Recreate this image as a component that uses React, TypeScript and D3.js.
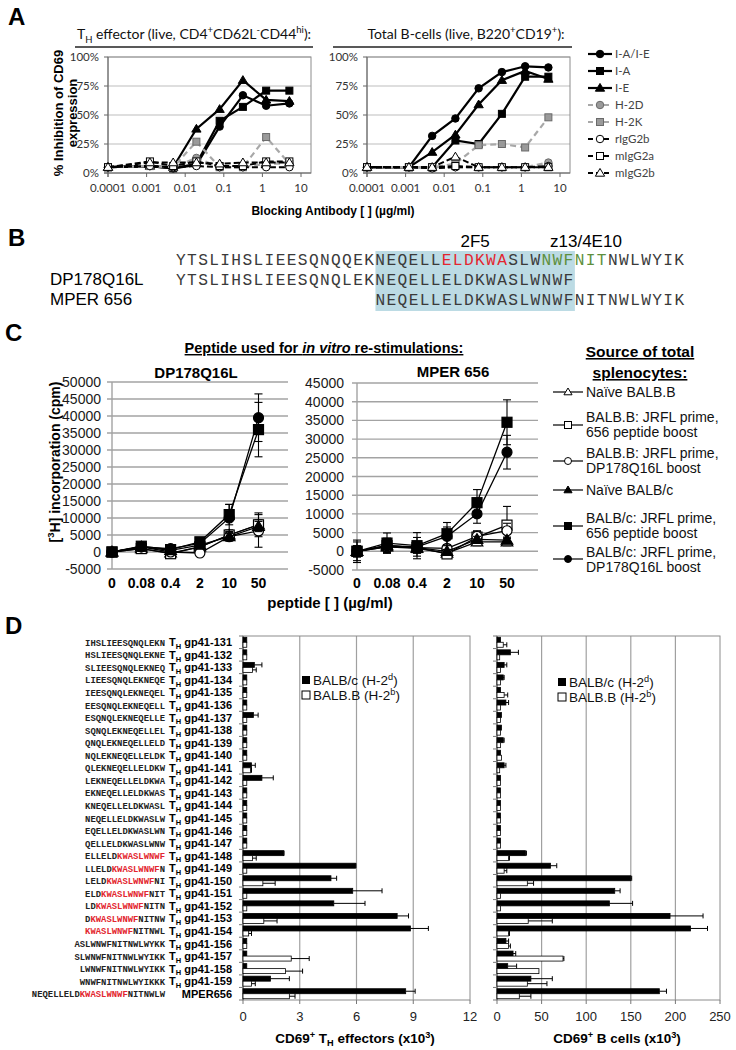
import React from "react";
import * as d3 from "d3";

const ARIAL = "'Liberation Sans', Arial, sans-serif";
const CAL = "Lato, 'Open Sans', sans-serif";
const MONO = "'Liberation Mono', 'Courier New', monospace";

// ---------- Panel A data ----------
const abConc = [0.0001, 0.00122, 0.00488, 0.0195, 0.078, 0.3125, 1.25, 5];
const abTicks = [0.0001, 0.001, 0.01, 0.1, 1, 10];
const abTickLabels = ["0.0001", "0.001", "0.01", "0.1", "1", "10"];
const aPctTicks = [0, 25, 50, 75, 100];
const aSeriesNames = ["I-A/I-E", "I-A", "I-E", "H-2D", "H-2K", "rIgG2b", "mIgG2a", "mIgG2b"];
const thIAIE = [5, 6, 4, 7, 40, 67, 58, 60];
const thIA = [5, 6, 4, 8, 45, 57, 71, 71];
const thIE = [5, 6, 5, 38, 55, 80, 63, 62];
const thH2D = [5, 6, 5, 13, 5, 5, 8, 8];
const thH2K = [5, 6, 5, 27, 5, 5, 31, 8];
const thRIgG2b = [5, 6, 5, 6, 5, 5, 5, 5];
const thMIgG2a = [5, 10, 6, 10, 6, 6, 10, 10];
const thMIgG2b = [5, 9, 9, 9, 8, 9, 9, 9];
const bIAIE = [5, 5, 32, 47, 73, 87, 92, 91];
const bIA = [5, 5, 5, 28, 25, 51, 83, 83];
const bIE = [5, 5, 18, 33, 59, 80, 88, 81];
const bH2D = [5, 5, 5, 5, 5, 5, 5, 9];
const bH2K = [5, 5, 5, 8, 24, 25, 22, 48];
const bRIgG2b = [5, 5, 4, 5, 5, 5, 5, 6];
const bMIgG2a = [5, 5, 5, 6, 5, 5, 5, 5];
const bMIgG2b = [5, 5, 5, 14, 5, 5, 5, 5];

// ---------- Panel B data ----------
const seqFull = "YTSLIHSLIEESQNQQEKNEQELLELDKWASLWNWFNITNWLWYIK";
const seqDP = "YTSLIHSLIEESQNQLEKNEQELLELDKWASLWNWF";
const seqMPER = "NEQELLELDKWASLWNWFNITNWLWYIK";
const seqNames = ["", "DP178Q16L", "MPER 656"];
const epi2F5 = [24, 30];
const epiZ13 = [33, 39];
const mperStart = 18;
const mperEnd = 36;

// ---------- Panel C data ----------
const peptideDoses = ["0", "0.08", "0.4", "2", "10", "50"];
const dpNaiveBB = [0, 1000, -300, 1500, 5000, 8000];
const dpNaiveBBErr = [300, 500, 500, 500, 1000, 1500];
const dpBB656 = [0, 1000, -500, 1500, 5000, 8000];
const dpBB656Err = [400, 700, 900, 800, 1500, 3500];
const dpBBDP = [0, 1500, 0, -300, 4500, 6200];
const dpBBDPErr = [400, 600, 600, 600, 1300, 4800];
const dpNaiveBc = [0, 1500, 500, 2000, 4500, 7500];
const dpNaiveBcErr = [300, 500, 500, 500, 1000, 1500];
const dpBc656 = [0, 1700, 700, 3000, 11000, 36000];
const dpBc656Err = [600, 900, 1000, 1000, 3000, 8000];
const dpBcDP = [0, 1500, 1000, 2500, 10000, 39500];
const dpBcDPErr = [600, 800, 1200, 1200, 4000, 7000];
const mpNaiveBB = [0, 1200, 800, -500, 2500, 2500];
const mpNaiveBBErr = [500, 500, 500, 500, 1000, 1000];
const mpBB656 = [0, 1500, 1000, -700, 3800, 7000];
const mpBB656Err = [1500, 1500, 1500, 800, 1500, 5000];
const mpBBDP = [0, 1200, 1000, 800, 4000, 5500];
const mpBBDPErr = [1500, 1500, 1500, 1000, 1500, 2000];
const mpNaiveBc = [0, 1500, 1000, 0, 3200, 3000];
const mpNaiveBcErr = [500, 500, 500, 500, 800, 800];
const mpBc656 = [0, 2200, 1500, 4700, 13000, 34500];
const mpBc656Err = [3000, 2700, 3500, 3000, 3500, 6000];
const mpBcDP = [0, 1500, 1200, 4000, 10000, 26500];
const mpBcDPErr = [2500, 2000, 2500, 2500, 2500, 4500];
const cLegend = [
  ["Naïve BALB.B"],
  ["BALB.B: JRFL prime,", "656 peptide boost"],
  ["BALB.B: JRFL prime,", "DP178Q16L boost"],
  ["Naïve BALB/c"],
  ["BALB/c: JRFL prime,", "656 peptide boost"],
  ["BALB/c: JRFL prime,", "DP178Q16L boost"],
];

// ---------- Panel D data ----------
const rowIds = ["131", "132", "133", "134", "135", "136", "137", "138", "139", "140", "141", "142", "143", "144", "145", "146", "147", "148", "149", "150", "151", "152", "153", "154", "156", "157", "158", "159", "MPER656"];
const seqPre = ["IHSLIEESQNQLEKN", "HSLIEESQNQLEKNE", "SLIEESQNQLEKNEQ", "LIEESQNQLEKNEQE", "IEESQNQLEKNEQEL", "EESQNQLEKNEQELL", "ESQNQLEKNEQELLE", "SQNQLEKNEQELLEL", "QNQLEKNEQELLELD", "NQLEKNEQELLELDK", "QLEKNEQELLELDKW", "LEKNEQELLELDKWA", "EKNEQELLELDKWAS", "KNEQELLELDKWASL", "NEQELLELDKWASLW", "EQELLELDKWASLWN", "QELLELDKWASLWNW", "ELLELD", "LLELD", "LELD", "ELD", "LD", "D", "", "ASLWNWFNITNWLWYKK", "SLWNWFNITNWLWYIKK", "LWNWFNITNWLWYIKK", "WNWFNITNWLWYIKKK", "NEQELLELD"];
const seqRed = ["", "", "", "", "", "", "", "", "", "", "", "", "", "", "", "", "", "KWASLWNWF", "KWASLWNWF", "KWASLWNWF", "KWASLWNWF", "KWASLWNWF", "KWASLWNWF", "KWASLWNWF", "", "", "", "", "KWASLWNWF"];
const seqPost = ["", "", "", "", "", "", "", "", "", "", "", "", "", "", "", "", "", "", "N", "NI", "NIT", "NITN", "NITNW", "NITNWL", "", "", "", "", "NITNWLW"];
const thBlack = [0.2, 0.2, 0.6, 0.2, 0.2, 0.2, 0.55, 0.2, 0.2, 0.2, 0.45, 1.0, 0.2, 0.2, 0.2, 0.2, 0.2, 2.15, 5.95, 4.65, 5.8, 4.8, 8.15, 8.85, 0.2, 0.2, 0.2, 1.45, 8.6];
const thBlackErr = [0, 0, 0.4, 0, 0, 0, 0.25, 0, 0, 0, 0.2, 0.6, 0, 0, 0, 0, 0, 0.02, 0.02, 0.3, 1.55, 1.65, 0.6, 0.95, 0, 0, 0, 1.0, 0.5];
const thWhite = [0.2, 0.2, 0.5, 0.2, 0.2, 0.2, 0.2, 0.2, 0.2, 0.2, 0.4, 0.2, 0.2, 0.2, 0.2, 0.2, 0.2, 0.5, 0.2, 1.05, 0.2, 0.2, 1.1, 0.3, 0.2, 2.55, 2.25, 0.45, 2.45];
const thWhiteErr = [0, 0, 0.2, 0, 0, 0, 0, 0, 0, 0, 0.05, 0, 0, 0, 0, 0, 0, 0.2, 0, 0.65, 0, 0, 0.7, 0.15, 0, 0.95, 0.9, 0.2, 0.3];
const bcBlack = [4, 15, 8, 7, 4, 10, 5, 5, 7, 4, 8, 4, 4, 4, 4, 4, 4, 32, 60, 150, 132, 126, 194, 217, 10, 18, 12, 38, 182];
const bcBlackErr = [0, 9, 3, 1, 0, 3, 0, 0, 1, 0, 2, 0, 0, 0, 0, 0, 0, 1, 7, 1, 6, 26, 37, 19, 3, 3, 10, 24, 8];
const bcWhite = [7, 3, 4, 4, 8, 4, 4, 4, 4, 5, 3, 4, 4, 4, 4, 4, 4, 13, 8, 34, 4, 4, 35, 13, 13, 74, 47, 34, 25];
const bcWhiteErr = [4, 0, 0, 0, 4, 0, 0, 0, 0, 0, 0, 0, 0, 0, 0, 0, 0, 1, 3, 7, 0, 0, 27, 1, 2, 1, 0, 22, 13];
const thTicks = [0, 3, 6, 9, 12];
const bcTicks = [0, 50, 100, 150, 200, 250];

// ---------- helpers ----------
type Seg = { t: string; sup?: boolean; sub?: boolean; fill?: string; italic?: boolean };

function Rich(props: any) {
  const { x, y, segs, size, anchor = "start", weight = "normal", family = ARIAL, fill = "#000", transform, deco } = props;
  let cur = 0;
  return (
    <text x={x} y={y} fontSize={size} textAnchor={anchor} fontWeight={weight} fontFamily={family} fill={fill} transform={transform} textDecoration={deco}>
      {segs.map((s: Seg, i: number) => {
        const small = s.sup || s.sub;
        const target = s.sup ? -size * 0.4 : s.sub ? size * 0.25 : 0;
        const dy = target - cur;
        cur = target;
        return (
          <tspan key={i} dy={dy} fontSize={small ? size * 0.68 : size} fill={s.fill} fontStyle={s.italic ? "italic" : undefined}>
            {s.t}
          </tspan>
        );
      })}
    </text>
  );
}

function Marker({ kind, x, y, s, fill, stroke, sw = 1 }: any) {
  if (kind === "circle") return <circle cx={x} cy={y} r={s / 2} fill={fill} stroke={stroke} strokeWidth={sw} />;
  if (kind === "square") return <rect x={x - s / 2} y={y - s / 2} width={s} height={s} fill={fill} stroke={stroke} strokeWidth={sw} />;
  const h = s * 0.95;
  return (
    <polygon
      points={`${x},${y - h * 0.6} ${x - s * 0.58},${y + h * 0.42} ${x + s * 0.58},${y + h * 0.42}`}
      fill={fill}
      stroke={stroke}
      strokeWidth={sw}
      strokeLinejoin="miter"
    />
  );
}

// ---------- Panel A ----------
const aStyle = [
  { kind: "circle", fill: "#000", stroke: "#000", line: "#000", dash: undefined, lw: 2.2, s: 7.5 },
  { kind: "square", fill: "#000", stroke: "#000", line: "#000", dash: undefined, lw: 2.2, s: 7 },
  { kind: "triangle", fill: "#000", stroke: "#000", line: "#000", dash: undefined, lw: 2.2, s: 8 },
  { kind: "circle", fill: "#9a9a9a", stroke: "#6a6a6a", line: "#a8a8a8", dash: "6,4", lw: 2.2, s: 7.5 },
  { kind: "square", fill: "#9a9a9a", stroke: "#6a6a6a", line: "#a8a8a8", dash: "6,4", lw: 2.2, s: 7 },
  { kind: "circle", fill: "#fff", stroke: "#000", line: "#000", dash: "6,3", lw: 2, s: 7.5 },
  { kind: "square", fill: "#fff", stroke: "#000", line: "#000", dash: "6,3", lw: 2, s: 7 },
  { kind: "triangle", fill: "#fff", stroke: "#000", line: "#000", dash: "6,3", lw: 2, s: 8 },
];

function APlot({ x0, series }: { x0: number; series: number[][] }) {
  const x = d3.scaleLog().domain([1e-4, 10]).range([x0, x0 + 193]);
  const y = d3.scaleLinear().domain([0, 100]).range([173, 57]);
  const right = x0 + 203;
  const line = d3
    .line<number>()
    .x((_, i) => x(abConc[i]))
    .y((v) => y(v));
  return (
    <g>
      {aPctTicks.slice(1).map((t) => (
        <line key={t} x1={x0} x2={right} y1={y(t)} y2={y(t)} stroke="#bdbdbd" strokeWidth={1.2} />
      ))}
      <rect x={x0} y={57} width={203} height={116} fill="none" stroke="#8c8c8c" />
      <line x1={x0} x2={x0} y1={57} y2={177} stroke="#666" />
      <line x1={x0 - 4} x2={right} y1={173} y2={173} stroke="#666" />
      {aPctTicks.map((t) => (
        <g key={t}>
          <line x1={x0 - 4} x2={x0} y1={y(t)} y2={y(t)} stroke="#666" />
          <text x={x0 - 9} y={y(t) + 4} fontSize={11.5} fontFamily={CAL} fill="#333" textAnchor="end">
            {t}%
          </text>
        </g>
      ))}
      {abTicks.map((t, i) => (
        <g key={t}>
          <line x1={x(t)} x2={x(t)} y1={173} y2={177} stroke="#666" />
          <text x={x(t)} y={192} fontSize={11.5} fontFamily={CAL} fill="#333" textAnchor="middle">
            {abTickLabels[i]}
          </text>
        </g>
      ))}
      {series.map((vals, si) => {
        const st = aStyle[si];
        return (
          <g key={si}>
            <path d={line(vals) || ""} fill="none" stroke={st.line} strokeWidth={st.lw} strokeDasharray={st.dash} />
            {vals.map((v, i) => (
              <Marker key={i} kind={st.kind} x={x(abConc[i])} y={y(v)} s={st.s} fill={st.fill} stroke={st.stroke} sw={1} />
            ))}
          </g>
        );
      })}
    </g>
  );
}

function PanelA() {
  const left = [thIAIE, thIA, thIE, thH2D, thH2K, thRIgG2b, thMIgG2a, thMIgG2b];
  const right = [bIAIE, bIA, bIE, bH2D, bH2K, bRIgG2b, bMIgG2a, bMIgG2b];
  return (
    <g>
      <text x={8} y={25} fontSize={24} fontWeight="bold" fontFamily={ARIAL}>
        A
      </text>
      <Rich
        x={194}
        y={39}
        size={14}
        anchor="middle"
        family={CAL}
        fill="#111"
        segs={[
          { t: "T" },
          { t: "H", sub: true },
          { t: " effector (live, CD4" },
          { t: "+", sup: true },
          { t: "CD62L" },
          { t: "-", sup: true },
          { t: "CD44" },
          { t: "hi", sup: true },
          { t: "):" },
        ]}
      />
      <line x1={75} x2={313} y1={47} y2={47} stroke="#222" strokeWidth={1.5} />
      <Rich
        x={466}
        y={39}
        size={14}
        anchor="middle"
        family={CAL}
        fill="#111"
        segs={[{ t: "Total B-cells (live, B220" }, { t: "+", sup: true }, { t: "CD19" }, { t: "+", sup: true }, { t: "):" }]}
      />
      <line x1={333} x2={572} y1={47} y2={47} stroke="#222" strokeWidth={1.5} />
      <g transform="translate(63,113) rotate(-90)">
        <text x={0} y={0} fontSize={13} fontWeight="bold" fontFamily={ARIAL} textAnchor="middle">
          % Inhibition of CD69
        </text>
        <text x={0} y={14} fontSize={13} fontWeight="bold" fontFamily={ARIAL} textAnchor="middle">
          expression
        </text>
      </g>
      <APlot x0={108} series={left} />
      <APlot x0={367} series={right} />
      {aSeriesNames.map((n, i) => {
        const st = aStyle[i];
        const yy = 54 + i * 17;
        return (
          <g key={n}>
            <line x1={588} x2={612} y1={yy} y2={yy} stroke={st.line} strokeWidth={st.lw} strokeDasharray={st.dash ? "5,3" : undefined} />
            <Marker kind={st.kind} x={600} y={yy} s={st.s} fill={st.fill} stroke={st.stroke} />
            <text x={615} y={yy + 4} fontSize={11.5} fontFamily={CAL} fill="#444">
              {n}
            </text>
          </g>
        );
      })}
      <text x={333} y={215} fontSize={12} fontWeight="bold" fontFamily={ARIAL} textAnchor="middle">
        Blocking Antibody  [  ] (µg/ml)
      </text>
    </g>
  );
}

// ---------- Panel B ----------
function PanelB() {
  const x0 = 176;
  const fs = 16.2;
  const cw = 11.08;
  const ls = cw - fs * 0.6;
  const base = [265, 285, 305];
  const colorAt = (i: number) =>
    i >= epi2F5[0] && i < epi2F5[1] ? "#e3262f" : i >= epiZ13[0] && i < epiZ13[1] ? "#5e8f3c" : "#3a3a3a";
  const runs: { t: string; c: string }[] = [];
  for (let i = 0; i < seqFull.length; i++) {
    const c = colorAt(i);
    if (runs.length && runs[runs.length - 1].c === c) runs[runs.length - 1].t += seqFull[i];
    else runs.push({ t: seqFull[i], c });
  }
  return (
    <g>
      <text x={8} y={246} fontSize={24} fontWeight="bold" fontFamily={ARIAL}>
        B
      </text>
      <rect x={x0 + mperStart * cw} y={251} width={(mperEnd - mperStart) * cw} height={60} fill="#bcdbe4" />
      <text x={x0 + 27 * cw} y={247} fontSize={17} fontFamily={ARIAL} textAnchor="middle">
        2F5
      </text>
      <text x={x0 + 37 * cw} y={247} fontSize={17} fontFamily={ARIAL} textAnchor="middle">
        z13/4E10
      </text>
      <text x={x0} y={base[0]} fontSize={fs} fontFamily={MONO} letterSpacing={ls}>
        {runs.map((r, i) => (
          <tspan key={i} fill={r.c}>
            {r.t}
          </tspan>
        ))}
      </text>
      <text x={x0} y={base[1]} fontSize={fs} fontFamily={MONO} fill="#3a3a3a" letterSpacing={ls}>
        {seqDP}
      </text>
      <text x={x0 + mperStart * cw} y={base[2]} fontSize={fs} fontFamily={MONO} fill="#3a3a3a" letterSpacing={ls}>
        {seqMPER}
      </text>
      {seqNames.map((n, i) =>
        n ? (
          <text key={i} x={50} y={base[i]} fontSize={17} fontFamily={ARIAL}>
            {n}
          </text>
        ) : null
      )}
    </g>
  );
}

// ---------- Panel C ----------
const cStyle = [
  { kind: "triangle", fill: "#fff", s: 10 },
  { kind: "square", fill: "#fff", s: 10 },
  { kind: "circle", fill: "#fff", s: 10 },
  { kind: "triangle", fill: "#000", s: 10 },
  { kind: "square", fill: "#000", s: 10 },
  { kind: "circle", fill: "#000", s: 10 },
];

function CPlot({ x0, step, right, yMax, yTop, yBot, labelX, series, errs }: any) {
  const y = d3.scaleLinear().domain([-5000, yMax]).range([yBot, yTop]);
  const xs = (i: number) => x0 + i * step;
  const ticks = d3.range(-5000, yMax + 1, 5000);
  const line = d3
    .line<number>()
    .x((_, i) => xs(i))
    .y((v) => y(v));
  return (
    <g>
      {ticks.map((t) => (
        <g key={t}>
          <line x1={x0 - 5} x2={right} y1={y(t)} y2={y(t)} stroke="#a3a3a3" strokeWidth={1.4} />
          <text x={labelX} y={y(t) + 5} fontSize={14} fontFamily={ARIAL} fill="#1a1a1a" textAnchor="end">
            {t}
          </text>
        </g>
      ))}
      <line x1={x0} x2={x0} y1={yTop} y2={yBot} stroke="#a3a3a3" strokeWidth={1.4} />
      {peptideDoses.map((d, i) => (
        <text key={d} x={xs(i)} y={588} fontSize={14} fontWeight="bold" fontFamily={ARIAL} textAnchor="middle">
          {d}
        </text>
      ))}
      {series.map((vals: number[], si: number) => {
        const st = cStyle[si];
        return (
          <g key={si}>
            {vals.map((v, i) => {
              const e = errs[si][i];
              return (
                <g key={i} stroke="#000" strokeWidth={1.1}>
                  <line x1={xs(i)} x2={xs(i)} y1={y(v - e)} y2={y(v + e)} />
                  <line x1={xs(i) - 4} x2={xs(i) + 4} y1={y(v - e)} y2={y(v - e)} />
                  <line x1={xs(i) - 4} x2={xs(i) + 4} y1={y(v + e)} y2={y(v + e)} />
                </g>
              );
            })}
            <path d={line(vals) || ""} fill="none" stroke="#000" strokeWidth={1.3} />
            {vals.map((v, i) => (
              <Marker key={i} kind={st.kind} x={xs(i)} y={y(v)} s={st.s} fill={st.fill} stroke="#000" sw={1.2} />
            ))}
          </g>
        );
      })}
    </g>
  );
}

function PanelC() {
  const left = [dpNaiveBB, dpBB656, dpBBDP, dpNaiveBc, dpBc656, dpBcDP];
  const leftE = [dpNaiveBBErr, dpBB656Err, dpBBDPErr, dpNaiveBcErr, dpBc656Err, dpBcDPErr];
  const right = [mpNaiveBB, mpBB656, mpBBDP, mpNaiveBc, mpBc656, mpBcDP];
  const rightE = [mpNaiveBBErr, mpBB656Err, mpBBDPErr, mpNaiveBcErr, mpBc656Err, mpBcDPErr];
  const legY = [
    { m: 392, t: [392] },
    { m: 425, t: [417, 432] },
    { m: 461, t: [453, 468] },
    { m: 490, t: [490] },
    { m: 526, t: [518, 533] },
    { m: 559, t: [552, 567] },
  ];
  return (
    <g>
      <text x={5} y={341} fontSize={24} fontWeight="bold" fontFamily={ARIAL}>
        C
      </text>
      <Rich
        x={324}
        y={353}
        size={14.5}
        weight="bold"
        anchor="middle"
        deco="underline"
        segs={[{ t: "Peptide used for " }, { t: "in vitro", italic: true }, { t: " re-stimulations:" }]}
      />
      <text x={196} y={378} fontSize={15} fontWeight="bold" fontFamily={ARIAL} textAnchor="middle">
        DP178Q16L
      </text>
      <text x={453} y={377} fontSize={15} fontWeight="bold" fontFamily={ARIAL} textAnchor="middle">
        MPER 656
      </text>
      <Rich
        x={0}
        y={0}
        size={14}
        weight="bold"
        anchor="middle"
        transform="translate(60,462) rotate(-90)"
        segs={[{ t: "[" }, { t: "3", sup: true }, { t: "H] incorporation (cpm)" }]}
      />
      <CPlot x0={112} step={29.3} right={288} yMax={50000} yTop={382} yBot={569} labelX={101} series={left} errs={leftE} />
      <CPlot x0={357} step={30} right={538} yMax={45000} yTop={383} yBot={570} labelX={344} series={right} errs={rightE} />
      <text x={330} y={608} fontSize={15} fontWeight="bold" fontFamily={ARIAL} textAnchor="middle">
        peptide [  ] (µg/ml)
      </text>
      <text x={640} y={357} fontSize={15.5} fontWeight="bold" fontFamily={ARIAL} textAnchor="middle" textDecoration="underline">
        Source of total
      </text>
      <text x={640} y={378} fontSize={15.5} fontWeight="bold" fontFamily={ARIAL} textAnchor="middle" textDecoration="underline">
        splenocytes:
      </text>
      {cLegend.map((lines, i) => {
        const st = cStyle[i];
        const ly = legY[i];
        return (
          <g key={i}>
            <line x1={553} x2={583} y1={ly.m} y2={ly.m} stroke="#000" strokeWidth={1.2} />
            <Marker kind={st.kind} x={568} y={ly.m} s={7} fill={st.fill} stroke="#000" sw={1} />
            {lines.map((t, j) => (
              <text key={j} x={586} y={ly.t[j] + 5} fontSize={14} fontFamily={ARIAL} fill="#111">
                {t}
              </text>
            ))}
          </g>
        );
      })}
    </g>
  );
}

// ---------- Panel D ----------
function DPlot({ x0, x1, max, ticks, black, blackErr, white, whiteErr, legX, legY, title, titleX }: any) {
  const x = d3.scaleLinear().domain([0, max]).range([x0, x1]);
  const yb = d3.scaleBand().domain(rowIds).range([636, 1000]);
  const bw = yb.bandwidth();
  const bh = 5;
  return (
    <g>
      {ticks.slice(1, -1).map((t: number) => (
        <line key={t} x1={x(t)} x2={x(t)} y1={636} y2={1000} stroke="#a0a0a0" strokeWidth={1.2} />
      ))}
      <rect x={x0} y={636} width={x1 - x0} height={364} fill="none" stroke="#8c8c8c" />
      <line x1={x0} x2={x0} y1={636} y2={1000} stroke="#555" />
      {rowIds.map((id) => (
        <line key={id} x1={x0 - 4} x2={x0} y1={(yb(id) as number) + bw} y2={(yb(id) as number) + bw} stroke="#777" />
      ))}
      <line x1={x0 - 4} x2={x0} y1={636} y2={636} stroke="#777" />
      {ticks.map((t: number) => (
        <g key={t}>
          <line x1={x(t)} x2={x(t)} y1={1000} y2={1004} stroke="#777" />
          <text x={x(t)} y={1021} fontSize={13} fontFamily={ARIAL} fill="#222" textAnchor="middle">
            {t}
          </text>
        </g>
      ))}
      {rowIds.map((id, i) => {
        const top = (yb(id) as number) + (bw - 2 * bh) / 2;
        const bars = [
          { v: black[i], e: blackErr[i], y: top, fill: "#000" },
          { v: white[i], e: whiteErr[i], y: top + bh, fill: "#fff" },
        ];
        return (
          <g key={id}>
            {bars.map((b, k) => (
              <g key={k}>
                <rect x={x0} y={b.y} width={x(b.v) - x0} height={bh} fill={b.fill} stroke="#000" strokeWidth={0.8} />
                {b.e > 0 && (
                  <g stroke="#000" strokeWidth={1}>
                    <line x1={x(b.v)} x2={x(b.v + b.e)} y1={b.y + bh / 2} y2={b.y + bh / 2} />
                    <line x1={x(b.v + b.e)} x2={x(b.v + b.e)} y1={b.y} y2={b.y + bh} />
                  </g>
                )}
              </g>
            ))}
          </g>
        );
      })}
      <rect x={legX - 4} y={legY - 4} width={8} height={8} fill="#000" />
      <rect x={legX - 4} y={legY + 11} width={8} height={8} fill="#fff" stroke="#000" />
      <Rich x={legX + 7} y={legY + 5} size={13.5} fill="#111" segs={[{ t: "BALB/c (H-2" }, { t: "d", sup: true }, { t: ")" }]} />
      <Rich x={legX + 7} y={legY + 20} size={13.5} fill="#111" segs={[{ t: "BALB.B (H-2" }, { t: "b", sup: true }, { t: ")" }]} />
      <Rich x={titleX} y={1043} size={13.5} weight="bold" anchor="middle" segs={title} />
    </g>
  );
}

function PanelD() {
  const yb = d3.scaleBand().domain(rowIds).range([636, 1000]);
  const bw = yb.bandwidth();
  return (
    <g>
      <text x={5} y={634} fontSize={24} fontWeight="bold" fontFamily={ARIAL}>
        D
      </text>
      {rowIds.map((id, i) => {
        const cy = (yb(id) as number) + bw / 2 + 3.5;
        return (
          <g key={id}>
            <text x={165} y={cy} fontSize={8.9} fontFamily={MONO} fontWeight="bold" fill="#222" textAnchor="end">
              <tspan>{seqPre[i]}</tspan>
              <tspan fill="#e3262f">{seqRed[i]}</tspan>
              <tspan>{seqPost[i]}</tspan>
            </text>
            {id === "MPER656" ? (
              <text x={232} y={cy + 0.5} fontSize={11} fontWeight="bold" fontFamily={ARIAL} textAnchor="end">
                MPER656
              </text>
            ) : (
              <Rich x={232} y={cy + 0.5} size={11} weight="bold" anchor="end" segs={[{ t: "T" }, { t: "H", sub: true }, { t: " gp41-" + id }]} />
            )}
          </g>
        );
      })}
      <DPlot
        x0={243}
        x1={470}
        max={12}
        ticks={thTicks}
        black={thBlack}
        blackErr={thBlackErr}
        white={thWhite}
        whiteErr={thWhiteErr}
        legX={306}
        legY={680}
        titleX={355}
        title={[{ t: "CD69" }, { t: "+", sup: true }, { t: " T" }, { t: "H", sub: true }, { t: " effectors (x10" }, { t: "3", sup: true }, { t: ")" }]}
      />
      <DPlot
        x0={497}
        x1={720}
        max={250}
        ticks={bcTicks}
        black={bcBlack}
        blackErr={bcBlackErr}
        white={bcWhite}
        whiteErr={bcWhiteErr}
        legX={562}
        legY={682}
        titleX={617}
        title={[{ t: "CD69" }, { t: "+", sup: true }, { t: " B cells (x10" }, { t: "3", sup: true }, { t: ")" }]}
      />
    </g>
  );
}

export default function App() {
  return (
    <svg width={736} height={1050} style={{ position: "absolute", left: 0, top: 0, background: "#fff" }}>
      <rect width={736} height={1050} fill="#fff" />
      <PanelA />
      <PanelB />
      <PanelC />
      <PanelD />
    </svg>
  );
}
